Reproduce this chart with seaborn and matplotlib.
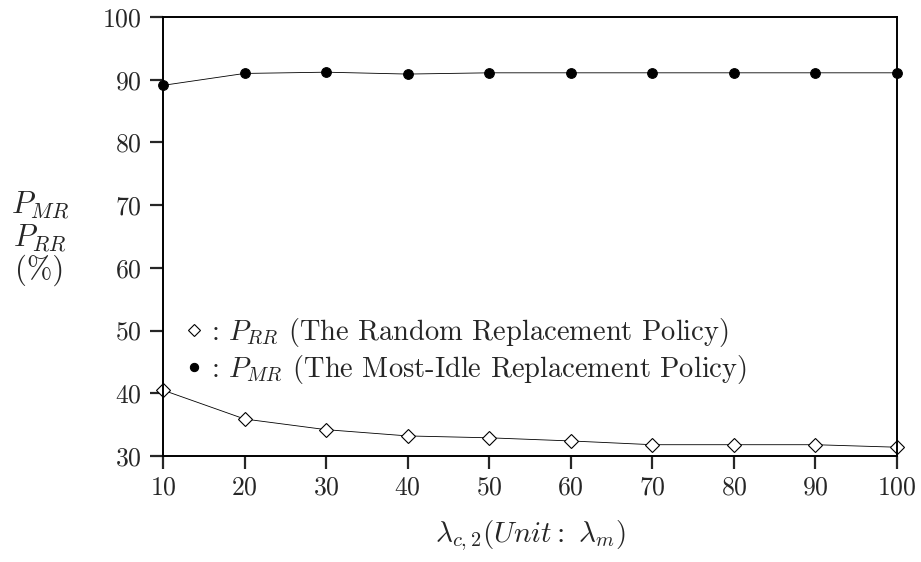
import matplotlib
matplotlib.use("Agg")
import matplotlib.pyplot as plt
import seaborn as sns
import pandas as pd

# values
lam = [10, 20, 30, 40, 50, 60, 70, 80, 90, 100]
p_mr = [89.1, 91.0, 91.2, 90.9, 91.1, 91.1, 91.1, 91.1, 91.1, 91.1]
p_rr = [40.5, 35.9, 34.2, 33.2, 32.9, 32.4, 31.8, 31.8, 31.8, 31.4]
xticks = [10, 20, 30, 40, 50, 60, 70, 80, 90, 100]
yticks = [30, 40, 50, 60, 70, 80, 90, 100]

df = pd.DataFrame({"lam": lam, "mr": p_mr, "rr": p_rr})

sns.set_style("white")
plt.rcParams["font.family"] = ["cmr10", "DejaVu Serif"]
plt.rcParams["mathtext.fontset"] = "cm"
plt.rcParams["axes.formatter.use_mathtext"] = True

fig = plt.figure(figsize=(9.21, 5.62), dpi=100)
ax = fig.add_axes([163 / 921, 1 - 456 / 562, (897 - 163) / 921, (456 - 17) / 562])

sns.lineplot(data=df, x="lam", y="rr", ax=ax, color="black", linewidth=0.6,
             marker="D", markersize=7.5, markerfacecolor="white",
             markeredgecolor="black", markeredgewidth=0.8, clip_on=False,
             label=r": $P_{RR}$ (The Random Replacement Policy)")
sns.lineplot(data=df, x="lam", y="mr", ax=ax, color="black", linewidth=0.6,
             marker="o", markersize=7, markerfacecolor="black",
             markeredgecolor="black", clip_on=False,
             label=r": $P_{MR}$ (The Most-Idle Replacement Policy)")

ax.set_xlim(10, 100)
ax.set_ylim(30, 100)
ax.set_xticks(xticks)
ax.set_yticks(yticks)
ax.tick_params(direction="out", length=9.5, width=1.6, labelsize=18.5, pad=6,
               bottom=True, left=True)
ax.tick_params(axis="x", pad=5)
for s in ax.spines.values():
    s.set_color("black")
    s.set_linewidth(1.4)

ax.set_xlabel(r"$\lambda_{c,2}(Unit:\ \lambda_m)$", fontsize=21, labelpad=13)
ax.set_ylabel("")
fig.text(40 / 921, 1 - 238 / 562, "$P_{MR}$\n$P_{RR}$\n(%)", fontsize=22,
         ha="center", va="center", linespacing=1.05)

leg = ax.legend(loc="upper left", bbox_to_anchor=(185 / 921, 1 - 316 / 562),
                bbox_transform=fig.transFigure, frameon=False,
                fontsize=20.5, handlelength=0.6, handletextpad=0.3,
                labelspacing=0.14, borderaxespad=0, borderpad=0,
                markerscale=0.85)
for h in leg.legend_handles:
    h.set_linestyle("none")

fig.savefig("out.png", dpi=100)
